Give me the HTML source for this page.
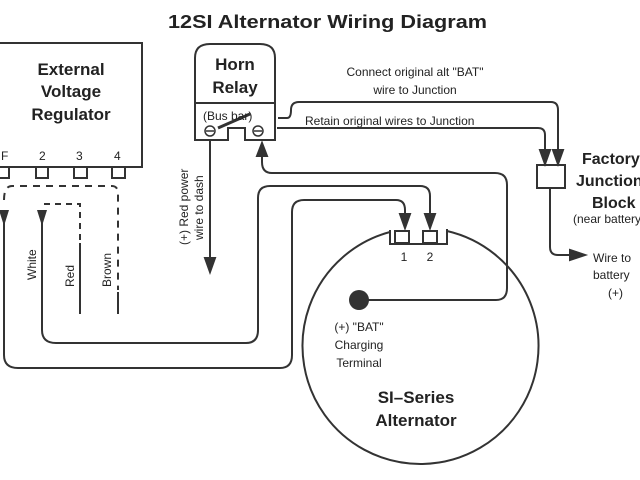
<!DOCTYPE html>
<html><head><meta charset="utf-8"><style>
html,body{margin:0;padding:0;background:#fff;}
svg{display:block;}
text{font-family:"Liberation Sans",sans-serif;fill:#222;}
.b{font-weight:bold;}
</style></head><body>
<svg width="640" height="480" viewBox="0 0 640 480" xmlns="http://www.w3.org/2000/svg">
<g fill="none" stroke="#333" stroke-width="2">
<!-- regulator -->
<rect x="-2" y="43" width="144" height="124"/>
<rect x="-2" y="167" width="11" height="11"/>
<rect x="36" y="167" width="12" height="11"/>
<rect x="74" y="167" width="13" height="11"/>
<rect x="112" y="167" width="13" height="11"/>
<!-- dashed -->
<path d="M4,200 Q4,186 12,186 L112,186 Q118,186 118,194 L118,290" stroke-dasharray="7,6"/>
<path d="M118,292 L118,314"/>
<path d="M44,204 L80,204 L80,240" stroke-dasharray="6,5"/>
<path d="M80,243 L80,314"/>
<!-- wire 1 : F to terminal 1 -->
<path d="M4,212 L4,355 Q4,368 18,368 L280,368 Q292,368 292,355 L292,212 Q292,200 304,200 L396,200 Q405,200 405,210 L405,228"/>
<path d="M400,214 L410,214 L405,228 Z" fill="#333"/>
<path d="M-1,210 L9,210 L4,226 Z" fill="#333" stroke="none"/>
<!-- wire 2 : white to terminal 2 -->
<path d="M42,212 L42,330 Q42,343 56,343 L246,343 Q258,343 258,330 L258,198 Q258,186 270,186 L420,186 Q430,186 430,196 L430,228"/>
<path d="M425,214 L435,214 L430,228 Z" fill="#333"/>
<path d="M37,210 L47,210 L42,226 Z" fill="#333" stroke="none"/>
<!-- BAT wire to relay -->
<path d="M362,300 L496,300 Q507,300 507,288 L507,185 Q507,173 495,173 L272,173 Q262,173 262,162 L262,146"/>
<path d="M257,156 L267,156 L262,143 Z" fill="#333"/>
<!-- red power -->
<path d="M210,140 L210,270"/>
<path d="M205,258 L215,258 L210,272 Z" fill="#333"/>
<!-- horn relay -->
<path d="M195,103 L195,58 Q195,44 210,44 L260,44 Q275,44 275,58 L275,103 Z" fill="#fff"/>
<path d="M195,103 L195,140 L228,140 L228,128 L245,128 L245,140 L275,140 L275,103"/>
<circle cx="210" cy="131" r="5" stroke-width="1.5"/>
<path d="M206,131 L214,131" stroke-width="1.5"/>
<circle cx="258" cy="131" r="5" stroke-width="1.5"/>
<path d="M254,131 L262,131" stroke-width="1.5"/>
<path d="M218,128 L250,114" stroke-width="3"/>
<!-- wires to junction -->
<path d="M278,118 L287,118 Q291,118 291,110 Q291,102 299,102 L551,102 Q558,102 558,110 L558,162"/>
<path d="M553,150 L563,150 L558,164 Z" fill="#333"/>
<path d="M277,128 L538,128 Q545,128 545,135 L545,162"/>
<path d="M540,150 L550,150 L545,164 Z" fill="#333"/>
<rect x="537" y="165" width="28" height="23"/>
<path d="M550,188 L550,247 Q550,255 558,255 L582,255"/>
<path d="M570,250 L585,255 L570,260 Z" fill="#333"/>
<!-- alternator -->
<path d="M390,232 A118,118 0 1 0 447,231"/>
<path d="M390,230 L390,244 L447,244 L447,229"/>
<rect x="395" y="231" width="14" height="12"/>
<rect x="423" y="231" width="14" height="12"/>
</g>
<circle cx="359" cy="300" r="10" fill="#333"/>
<text x="168" y="28" class="b" font-size="18" textLength="319" lengthAdjust="spacingAndGlyphs">12SI Alternator Wiring Diagram</text>
<text x="71" y="75" class="b" font-size="17" text-anchor="middle">External</text>
<text x="71" y="97" class="b" font-size="17" text-anchor="middle">Voltage</text>
<text x="71" y="120" class="b" font-size="17" text-anchor="middle">Regulator</text>
<g font-size="12"><text x="1" y="160">F</text><text x="39" y="160">2</text><text x="76" y="160">3</text><text x="114" y="160">4</text></g>
<text x="235" y="70" class="b" font-size="17" text-anchor="middle">Horn</text>
<text x="235" y="93" class="b" font-size="17" text-anchor="middle">Relay</text>
<text x="203" y="120" font-size="12">(Bus bar)</text>
<g font-size="12">
<text transform="translate(36,280) rotate(-90)">White</text>
<text transform="translate(74,287) rotate(-90)">Red</text>
<text transform="translate(111,287) rotate(-90)">Brown</text>
<text transform="translate(188,245) rotate(-90)">(+) Red power</text>
<text transform="translate(203,240) rotate(-90)">wire to dash</text>
<text x="415" y="76" text-anchor="middle">Connect original alt "BAT"</text>
<text x="415" y="94" text-anchor="middle">wire to Junction</text>
<text x="305" y="125">Retain original wires to Junction</text>
<text x="404" y="261" text-anchor="middle">1</text>
<text x="430" y="261" text-anchor="middle">2</text>
<text x="359" y="331" text-anchor="middle">(+) "BAT"</text>
<text x="359" y="349" text-anchor="middle">Charging</text>
<text x="359" y="367" text-anchor="middle">Terminal</text>
<text x="573" y="223">(near battery)</text>
<text x="593" y="262">Wire to</text>
<text x="593" y="279">battery</text>
<text x="608" y="297">(+)</text>
</g>
<text x="582" y="164" class="b" font-size="16">Factory</text>
<text x="576" y="186" class="b" font-size="16">Junction</text>
<text x="592" y="208" class="b" font-size="16">Block</text>
<text x="416" y="403" class="b" font-size="17" text-anchor="middle">SI–Series</text>
<text x="416" y="426" class="b" font-size="17" text-anchor="middle">Alternator</text>
</svg>
</body></html>
